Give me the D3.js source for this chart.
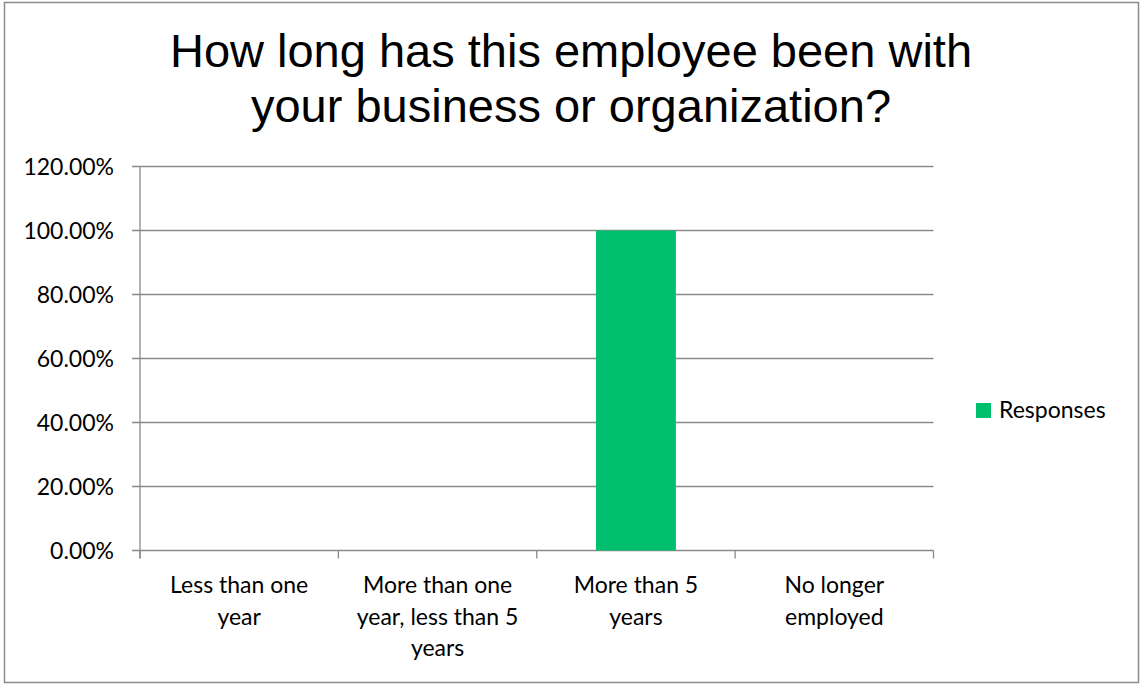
<!DOCTYPE html>
<html>
<head>
<meta charset="utf-8">
<script src="https://cdn.jsdelivr.net/npm/d3@7"></script>
<style>
  html, body { margin: 0; padding: 0; background: #fff; }
  svg { display: block; }
</style>
</head>
<body>
<svg id="chart" width="1142" height="687"></svg>
<script>
const titleLines = ["How long has this employee been with", "your business or organization?"];
const categories = ["Less than one year", "More than one year, less than 5 years", "More than 5 years", "No longer employed"];
const categoryLabelLines = [["Less than one", "year"], ["More than one", "year, less than 5", "years"], ["More than 5", "years"], ["No longer", "employed"]];
const responses = [0, 0, 1.0, 0];
const yTicks = [0, 0.2, 0.4, 0.6, 0.8, 1.0, 1.2];
const seriesName = "Responses";

(function () {
const svg = d3.select("#chart");
const W = 1142, H = 687;
const plotLeft = 140, plotRight = 933.5, plotTop = 166.5, plotBottom = 550.5;
const gridColor = "#8a8a8a";
const labelFont = "Lato, 'Open Sans', sans-serif";

svg.append("rect").attr("x", 0).attr("y", 0).attr("width", W).attr("height", H).attr("fill", "#fff");
svg.append("rect").attr("x", 4.5).attr("y", 2.5).attr("width", 1134).attr("height", 680)
  .attr("fill", "#fff").attr("stroke", "#8c8c8c").attr("stroke-width", 1.5);

// Title
svg.append("g").selectAll("text").data(titleLines).join("text")
  .attr("x", 571).attr("y", (d, i) => 67 + i * 55)
  .attr("text-anchor", "middle")
  .attr("font-family", "'Liberation Sans', Arial, sans-serif")
  .attr("font-size", 47)
  .attr("fill", "#000")
  .text(d => d);

const y = d3.scaleLinear().domain([0, 1.2]).range([plotBottom, plotTop]);
const xOuter = d3.scaleBand().domain(categories).range([plotLeft, plotRight]).padding(0);
const xBar = d3.scaleBand().domain(categories).range([plotLeft, plotRight]).paddingInner(0.597).paddingOuter(0.2985);

// Gridlines
svg.append("g").selectAll("line").data(yTicks).join("line")
  .attr("x1", plotLeft - 8).attr("x2", plotRight)
  .attr("y1", d => y(d)).attr("y2", d => y(d))
  .attr("stroke", gridColor).attr("stroke-width", 1.3);

// Bars
svg.append("g").selectAll("rect").data(categories).join("rect")
  .attr("x", d => xBar(d))
  .attr("width", xBar.bandwidth())
  .attr("y", (d, i) => y(responses[i]))
  .attr("height", (d, i) => y(0) - y(responses[i]))
  .attr("fill", "#00BF6F");

// Y axis line
svg.append("line").attr("x1", plotLeft).attr("x2", plotLeft).attr("y1", plotTop).attr("y2", plotBottom + 8)
  .attr("stroke", gridColor).attr("stroke-width", 1.3);

// X axis category ticks
const boundaries = categories.map(c => xOuter(c)).concat([plotRight]);
svg.append("g").selectAll("line").data(boundaries).join("line")
  .attr("x1", d => d).attr("x2", d => d)
  .attr("y1", plotBottom).attr("y2", plotBottom + 8)
  .attr("stroke", gridColor).attr("stroke-width", 1.3);

// Y tick labels
svg.append("g").selectAll("text").data(yTicks).join("text")
  .attr("x", 114).attr("y", d => y(d) + 8)
  .attr("text-anchor", "end")
  .attr("font-family", labelFont).attr("font-size", 23)
  .attr("fill", "#000")
  .text(d => d3.format(".2%")(d));

// Category labels
const catG = svg.append("g");
categories.forEach((c, i) => {
  const cx = xOuter(c) + xOuter.bandwidth() / 2;
  catG.append("g").selectAll("text").data(categoryLabelLines[i]).join("text")
    .attr("x", cx).attr("y", (d, j) => 593 + j * 31.5)
    .attr("text-anchor", "middle")
    .attr("font-family", labelFont).attr("font-size", 23)
    .attr("fill", "#000")
    .text(d => d);
});

// Legend
svg.append("rect").attr("x", 976).attr("y", 403).attr("width", 15).attr("height", 15).attr("fill", "#00BF6F");
svg.append("text").attr("x", 999).attr("y", 418)
  .attr("font-family", labelFont).attr("font-size", 23).attr("fill", "#000")
  .text(seriesName);
})();
</script>
</body>
</html>
